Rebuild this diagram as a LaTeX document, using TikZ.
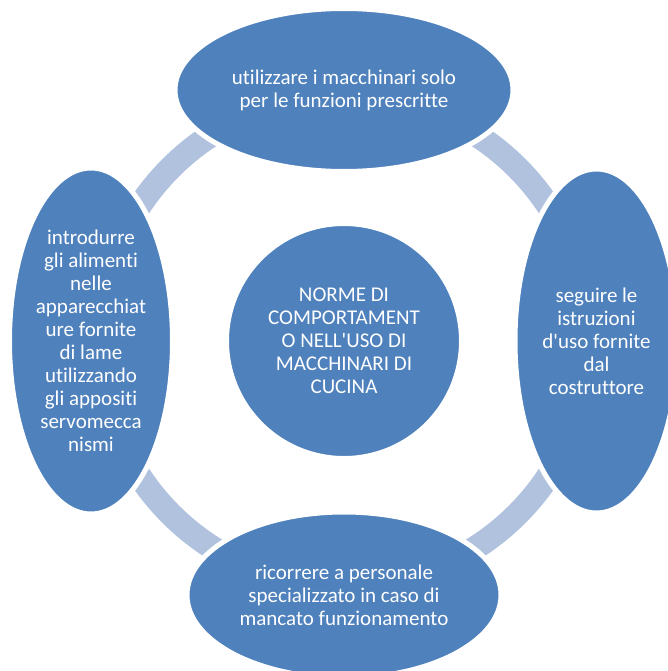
\documentclass[tikz,border=0pt]{standalone}
\usepackage{fontspec}
\setmainfont{Carlito}[Ligatures={TeXOff,NoCommon}]
\usetikzlibrary{shapes.geometric}
\definecolor{cblue}{RGB}{79,129,189}
\definecolor{cband}{RGB}{177,194,222}
\begin{document}
\begin{tikzpicture}[x=1pt, y=-1pt,
    blob/.style={ellipse, fill=cblue, draw=white, line width=5pt, inner sep=0pt,
        text=white, align=center, font=\fontsize{21}{23}\selectfont}]
\useasboundingbox (0,0) rectangle (668,671);
\clip (0,0) rectangle (668,671);

\node[blob, circle, minimum size=235] (norme) at (344,341)
    {NORME DI\\COMPORTAMENT\\O NELL'USO DI\\MACCHINARI DI\\CUCINA};

% ring behind the four ellipses
\draw[cband, line width=24pt] (norme.center) circle (245pt);

\node[blob, minimum width=338, minimum height=163] (utilizzare) at (344,90)
    {utilizzare i macchinari solo\\per le funzioni prescritte};
\node[blob, minimum width=163, minimum height=344] (seguire) at (596.5,341)
    {seguire le\\istruzioni\\d'uso fornite\\dal\\costruttore};
\node[blob, minimum width=314, minimum height=166] (ricorrere) at (344,595)
    {ricorrere a personale\\specializzato in caso di\\mancato funzionamento};
\node[blob, minimum width=163, minimum height=346] (introdurre) at (91,341)
    {introdurre\\gli alimenti\\nelle\\apparecchiat\\ure fornite\\di lame\\utilizzando\\gli appositi\\servomecca\\nismi};

\end{tikzpicture}
\end{document}
